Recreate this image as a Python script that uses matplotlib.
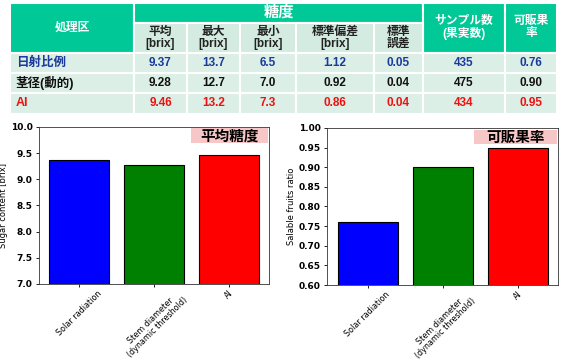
import numpy as np
import matplotlib
matplotlib.use("Agg")
import matplotlib.pyplot as plt
from matplotlib.patches import Rectangle

plt.rcParams['font.family'] = ['DejaVu Sans', 'Noto Sans CJK JP']
TABLE_FONT = ['Liberation Sans', 'Noto Sans CJK JP']
JP_FONT = ['Noto Sans CJK JP', 'DejaVu Sans']

# ── data ──────────────────────────────────────────────────────────────────────
groups = ['日射比例', '茎径(動的)', 'AI']
group_colors = ['#1a3a9c', '#111111', '#ee1111']
sugar_mean = [9.37, 9.28, 9.46]
sugar_max = [13.7, 12.7, 13.2]
sugar_min = [6.5, 7.0, 7.3]
sugar_sd = [1.12, 0.92, 0.86]
sugar_se = [0.05, 0.04, 0.04]
n_samples = [435, 475, 434]
salable_ratio = [0.76, 0.90, 0.95]

sub_headers = ['平均\n[brix]', '最大\n[brix]', '最小\n[brix]', '標準偏差\n[brix]', '標準\n誤差']
bar_labels = ['Solar radiation', 'Stem diameter\n(dynamic threshold)', 'AI']
bar_colors = ['blue', 'green', 'red']

# ── figure ────────────────────────────────────────────────────────────────────
fig = plt.figure(figsize=(5.61, 3.61), dpi=100)

# table drawn in pixel coords on a full-figure axes
tab = fig.add_axes([0, 0, 1, 1])
tab.set_xlim(0, 561)
tab.set_ylim(361, 0)
tab.axis('off')

col_x = [10, 134, 187, 240, 296, 374, 423, 505, 557]
row_y = [3, 23, 53, 73, 93, 114]
head_green = '#00c896'
light = '#d3ebe0'
cell_light = '#dcefe6'


def cell(x0, x1, y0, y1, color):
    tab.add_patch(Rectangle((x0, y0), x1 - x0, y1 - y0, facecolor=color,
                            edgecolor='white', linewidth=1.5))


hkw = dict(ha='center', va='center', color='white', fontweight='bold',
           family=TABLE_FONT, linespacing=1.0)

cell(col_x[0], col_x[1], row_y[0], row_y[2], head_green)
tab.text((col_x[0] + col_x[1]) / 2, 28, '処理区', fontsize=8.5, **hkw)
cell(col_x[1], col_x[6], row_y[0], row_y[1], head_green)
tab.text((col_x[1] + col_x[6]) / 2, 12, '糖度', fontsize=11, **hkw)
cell(col_x[6], col_x[7], row_y[0], row_y[2], head_green)
tab.text((col_x[6] + col_x[7]) / 2, 27, 'サンプル数\n(果実数)', fontsize=8.5, **hkw)
cell(col_x[7], col_x[8], row_y[0], row_y[2], head_green)
tab.text((col_x[7] + col_x[8]) / 2, 27, '可販果\n率', fontsize=8.5, **hkw)

for j, h in enumerate(sub_headers):
    cell(col_x[1 + j], col_x[2 + j], row_y[1], row_y[2], light)
    tab.text((col_x[1 + j] + col_x[2 + j]) / 2, 38, h, ha='center', va='center',
             fontsize=8.5, fontweight='bold', color='#222222', linespacing=1.0,
             family=TABLE_FONT)

for i, g in enumerate(groups):
    y0, y1 = row_y[2 + i], row_y[3 + i]
    yc = (y0 + y1) / 2
    c = group_colors[i]
    vals = [f'{sugar_mean[i]:.2f}', f'{sugar_max[i]:.1f}', f'{sugar_min[i]:.1f}',
            f'{sugar_sd[i]:.2f}', f'{sugar_se[i]:.2f}', f'{n_samples[i]}',
            f'{salable_ratio[i]:.2f}']
    cell(col_x[0], col_x[1], y0, y1, cell_light)
    tab.text(col_x[0] + 6, yc, g, ha='left', va='center', fontsize=9,
             fontweight='bold', color=c, family=TABLE_FONT)
    for j, v in enumerate(vals):
        cell(col_x[1 + j], col_x[2 + j], y0, y1, cell_light)
        tab.text((col_x[1 + j] + col_x[2 + j]) / 2, yc, v, ha='center',
                 va='center', fontsize=8.5, fontweight='bold', color=c,
                 family=TABLE_FONT)

# ── bar charts ────────────────────────────────────────────────────────────────
ax1 = fig.add_axes([0.0695, 0.2133, 0.41, 0.435])
ax2 = fig.add_axes([0.583, 0.2105, 0.412, 0.435])

x = np.arange(len(bar_labels))
for ax, vals, lim, step, fmt, ylab, tag, box in [
        (ax1, sugar_mean, (7.0, 10.0), 0.5, '%.1f', 'Sugar content [brix]',
         '平均糖度', (0.66, 0.90, 0.335)),
        (ax2, salable_ratio, (0.6, 1.0), 0.05, '%.2f', 'Salable fruits ratio',
         '可販果率', (0.635, 0.895, 0.36))]:
    ax.bar(x, vals, color=bar_colors, edgecolor='black', linewidth=0.8, width=0.8)
    ax.set_ylim(*lim)
    ax.set_yticks(np.arange(lim[0], lim[1] + step / 2, step))
    ax.yaxis.set_major_formatter(matplotlib.ticker.FormatStrFormatter(fmt))
    ax.set_xticks(x)
    ax.set_xticklabels(bar_labels, rotation=45, ha='center', fontsize=5.8,
                       linespacing=0.95)
    ax.tick_params(axis='y', labelsize=6.5, length=2.5, width=0.6, pad=2)
    ax.tick_params(axis='x', length=2.5, width=0.6, pad=1)
    for lbl in ax.get_yticklabels():
        lbl.set_fontweight('bold')
    ax.set_ylabel(ylab, fontsize=6, labelpad=2)
    for s in ax.spines.values():
        s.set_linewidth(0.6)
        s.set_color('#333333')
    ax.add_patch(Rectangle((box[0], box[1]), box[2], 0.095, transform=ax.transAxes,
                           facecolor='#f7c6c6', edgecolor='none', zorder=3))
    ax.text(box[0] + box[2] / 2, box[1] + 0.047, tag, transform=ax.transAxes,
            ha='center', va='center', fontsize=10.5, fontweight='bold', zorder=4,
            family=JP_FONT)

fig.savefig('out.png', dpi=100)
